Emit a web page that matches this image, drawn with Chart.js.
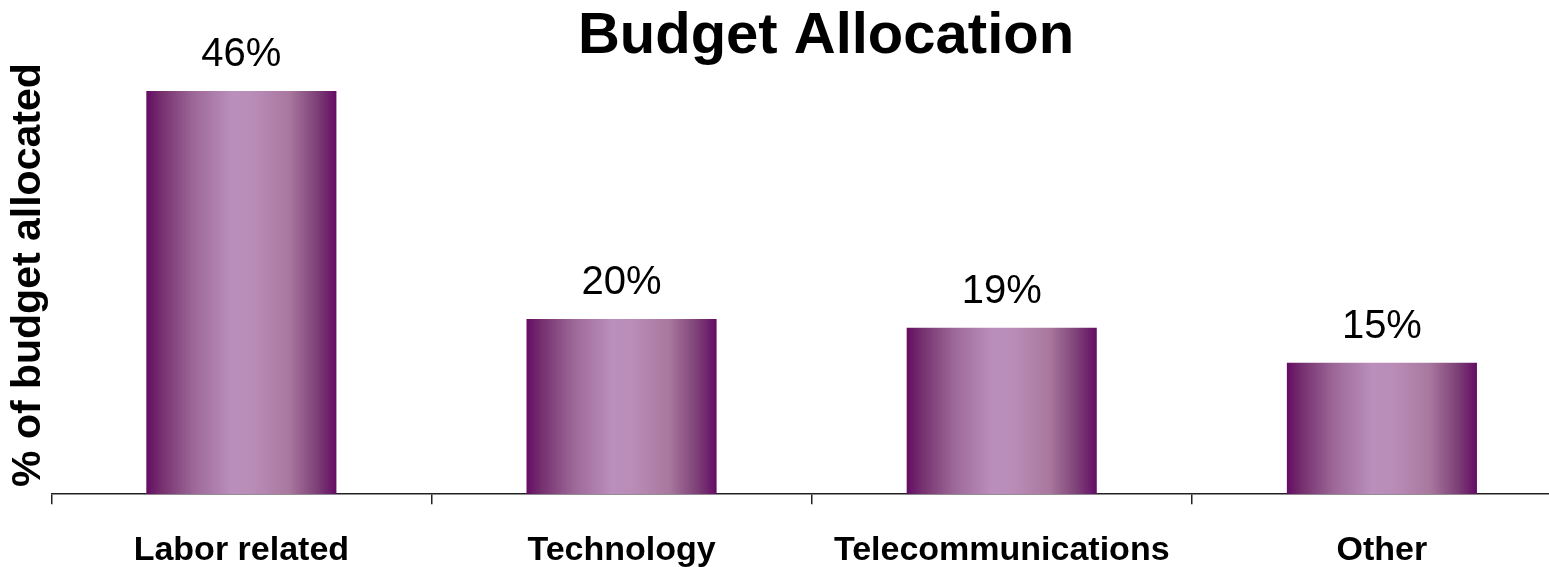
<!DOCTYPE html>
<html>
<head>
<meta charset="utf-8">
<title>Budget Allocation</title>
<script src="https://cdn.jsdelivr.net/npm/chart.js@4/dist/chart.umd.min.js"></script>
<style>
  html, body { margin: 0; padding: 0; background: #fff; overflow: hidden; }
  #wrap { width: 1572px; height: 567px; position: relative; }
</style>
</head>
<body>
<div id="wrap"><canvas id="budgetChart"></canvas></div>
<script>
// === DATA ===
const categories = ['Labor related', 'Technology', 'Telecommunications', 'Other'];
const shares = [46, 20, 19, 15];
const shareLabels = ['46%', '20%', '19%', '15%'];
const axisMin = 0;
const axisMax = 50;

const FONT = '"Liberation Sans", Arial, Helvetica, sans-serif';
const TITLE = 'Budget Allocation';
const TITLE_X = 826;     // title sits a little right of the plot centre
const TITLE_BASE = 53;

// purple "cylinder" look: dark edges, light middle
function barGradient(ctx) {
    const chart = ctx.chart;
    const xs = chart.scales.x;
    if (!xs || ctx.dataIndex === undefined || !xs.width) return '#9a5f98';
    const cx = xs.getPixelForValue(ctx.dataIndex);
    const half = xs.width / categories.length * 0.25;
    const g = chart.ctx.createLinearGradient(cx - half, 0, cx + half, 0);
    g.addColorStop(0.00, '#640c64');
    g.addColorStop(0.08, '#76306f');
    g.addColorStop(0.25, '#9d6898');
    g.addColorStop(0.45, '#bb8fbb');
    g.addColorStop(0.55, '#ba8db9');
    g.addColorStop(0.75, '#a9789f');
    g.addColorStop(0.90, '#7c3f76');
    g.addColorStop(1.00, '#640c64');
    return g;
}

// value text above each bar
const valueLabels = {
    id: 'valueLabels',
    afterDatasetsDraw(chart) {
        const c = chart.ctx;
        const meta = chart.getDatasetMeta(0);
        c.save();
        c.font = '40px ' + FONT;
        c.fillStyle = '#000';
        c.textAlign = 'center';
        c.textBaseline = 'alphabetic';
        meta.data.forEach((bar, i) => {
            c.fillText(shareLabels[i], bar.x, bar.y - 25);
        });
        c.restore();
    }
};

// big bold heading
const heading = {
    id: 'heading',
    afterDraw(chart) {
        const c = chart.ctx;
        c.save();
        c.font = 'bold 58px ' + FONT;
        c.fillStyle = '#000';
        c.textAlign = 'center';
        c.textBaseline = 'alphabetic';
        c.fillText(TITLE, TITLE_X, TITLE_BASE);
        c.restore();
    }
};

const ctx = document.getElementById('budgetChart').getContext('2d');
const budgetChart = new Chart(ctx, {
    type: 'bar',
    data: {
        labels: categories,
        datasets: [{
            data: shares,
            backgroundColor: barGradient,
            borderWidth: 0,
            barPercentage: 0.5,
            categoryPercentage: 1.0
        }]
    },
    options: {
        responsive: true,
        maintainAspectRatio: false,
        animation: false,
        events: [],
        layout: { padding: { left: 7, right: 0, top: 56, bottom: -30 } },
        scales: {
            x: {
                grid: {
                    offset: true,
                    drawOnChartArea: false,
                    drawTicks: true,
                    tickLength: 10,
                    lineWidth: 1.5,
                    color: '#222'
                },
                border: { display: true, color: '#222', width: 1.5 },
                ticks: {
                    color: '#000',
                    padding: 26,
                    font: { family: FONT, size: 34, weight: 'bold' }
                }
            },
            y: {
                min: axisMin,
                max: axisMax,
                grid: { display: false, drawTicks: false },
                border: { display: false },
                ticks: { display: false },
                title: {
                    display: true,
                    text: '% of budget allocated',
                    color: '#000',
                    padding: { top: 0, bottom: 0 },
                    font: { family: FONT, size: 41, weight: 'bold', lineHeight: 1.08 }
                }
            }
        },
        plugins: {
            legend: { display: false },
            tooltip: { enabled: false },
            title: { display: false }
        }
    },
    plugins: [valueLabels, heading]
});
</script>
</body>
</html>
